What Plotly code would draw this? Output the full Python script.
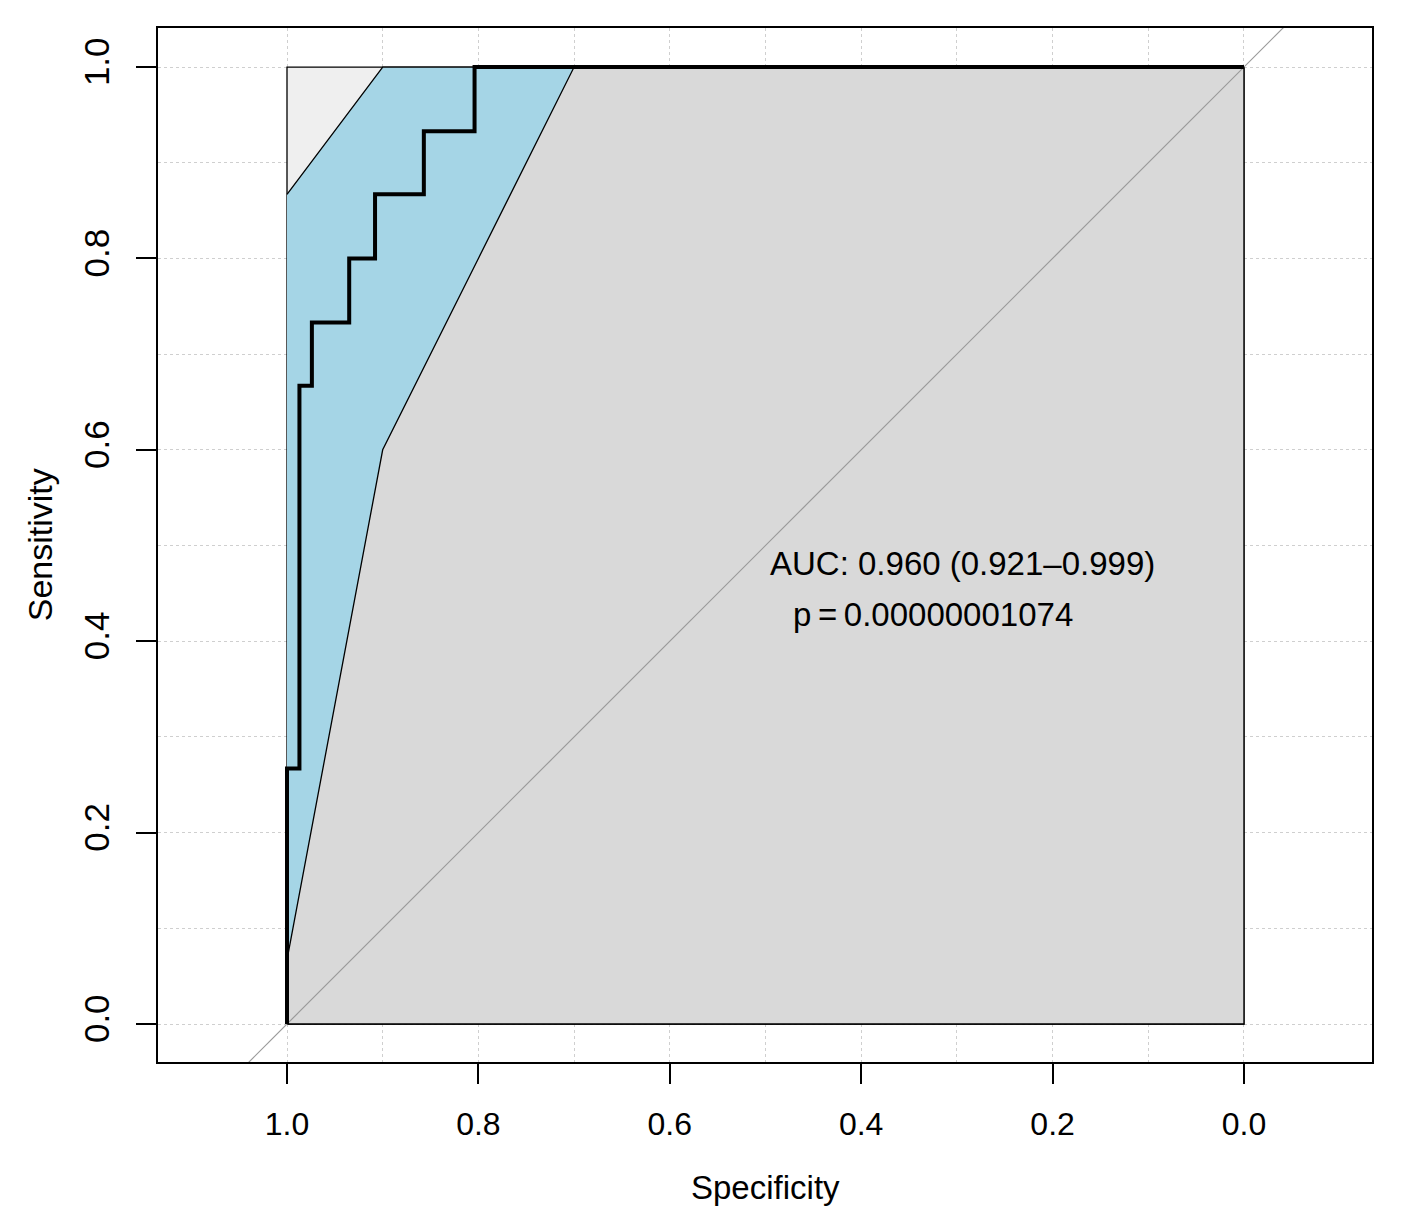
import plotly.graph_objects as go

# ROC curve (specificity, sensitivity)
roc_spec = [1.0, 1.0, 0.987, 0.987, 0.974, 0.974, 0.935, 0.935, 0.908, 0.908,
            0.857, 0.857, 0.804, 0.804, 0.0]
roc_sens = [0.0, 0.267, 0.267, 0.667, 0.667, 0.733, 0.733, 0.800, 0.800, 0.867,
            0.867, 0.933, 0.933, 1.0, 1.0]

# confidence band of sensitivity on a specificity grid
ci_spec = [1.0, 0.9, 0.8, 0.7, 0.6, 0.5, 0.4, 0.3, 0.2, 0.1, 0.0]
ci_upper = [0.867, 1.0, 1.0, 1.0, 1.0, 1.0, 1.0, 1.0, 1.0, 1.0, 1.0]
ci_lower = [0.067, 0.600, 0.800, 1.0, 1.0, 1.0, 1.0, 1.0, 1.0, 1.0, 1.0]

# square of the max AUC
box_spec = [1.0, 1.0, 0.0, 0.0, 1.0]
box_sens = [0.0, 1.0, 1.0, 0.0, 0.0]

# chance line sens = 1 - spec, drawn beyond the visible range
diag_spec = [1.3, -0.3]
diag_sens = [1 - s for s in diag_spec]

tick_vals = [0.0, 0.2, 0.4, 0.6, 0.8, 1.0]
tick_text = ["0.0", "0.2", "0.4", "0.6", "0.8", "1.0"]
grid_vals = [0.0, 0.1, 0.2, 0.3, 0.4, 0.5, 0.6, 0.7, 0.8, 0.9, 1.0]

auc_label = "AUC: 0.960 (0.921\u20130.999)"
p_label = "p\u2009=\u20090.00000001074"

FONT = "Liberation Sans, Arial, sans-serif"

fig = go.Figure()

# max auc polygon (light)
fig.add_trace(go.Scatter(x=box_spec, y=box_sens, mode="lines", fill="toself",
    fillcolor="#efefef", line=dict(color="black", width=1.3), hoverinfo="skip"))

# auc polygon (under ROC)
auc_x = roc_spec + [0.0, 1.0]
auc_y = roc_sens + [0.0, 0.0]
fig.add_trace(go.Scatter(x=auc_x, y=auc_y, mode="lines", fill="toself",
    fillcolor="#d9d9d9", line=dict(color="black", width=1.3), hoverinfo="skip"))

# CI shape
ci_x = ci_spec + ci_spec[::-1]
ci_y = ci_upper + ci_lower[::-1]
fig.add_trace(go.Scatter(x=ci_x, y=ci_y, mode="lines", fill="toself",
    fillcolor="#a5d5e6", line=dict(color="black", width=1.3), hoverinfo="skip"))

# diagonal
fig.add_trace(go.Scatter(x=diag_spec, y=diag_sens, mode="lines",
    line=dict(color="#9a9a9a", width=1.2), hoverinfo="skip"))

# ROC curve
fig.add_trace(go.Scatter(x=roc_spec, y=roc_sens, mode="lines",
    line=dict(color="black", width=4), hoverinfo="skip"))

fig.add_annotation(x=0.294, y=0.481, text=auc_label, showarrow=False,
    font=dict(family=FONT, size=33, color="black"))
fig.add_annotation(x=0.325, y=0.428, text=p_label, showarrow=False,
    font=dict(family=FONT, size=33, color="black"))

# axis titles
fig.add_annotation(x=0.5, y=-0.121, xref="paper", yref="paper", text="Specificity",
    xanchor="center", yanchor="middle", showarrow=False,
    font=dict(family=FONT, size=33, color="black"))
fig.add_annotation(x=-0.097, y=0.5, xref="paper", yref="paper", text="Sensitivity",
    xanchor="center", yanchor="middle", textangle=-90, showarrow=False,
    font=dict(family=FONT, size=34, color="black"))

axis_common = dict(
    tickmode="array", tickvals=tick_vals, ticktext=tick_text,
    ticks="outside", ticklen=20, tickwidth=2, tickcolor="black",
    showline=True, mirror=True, linecolor="black", linewidth=2,
    showgrid=True, gridcolor="#cfcfcf", gridwidth=1, griddash="dot",
    minor=dict(tickmode="array", tickvals=grid_vals, showgrid=True,
               gridcolor="#cfcfcf", gridwidth=1, griddash="dot", ticks=""),
    zeroline=False,
)

fig.update_xaxes(axis_common, range=[1.1348, -0.1338],
    tickfont=dict(family=FONT, size=32, color="black"), ticklabelstandoff=13)
fig.update_yaxes(axis_common, range=[-0.0397, 1.0408], tickangle=-90,
    tickfont=dict(family=FONT, size=35, color="black"), ticklabelstandoff=13)

# the page adds an 8px body margin, so the margins are shifted by that amount
fig.update_layout(
    width=1409, height=1224,
    margin=dict(l=150, r=45, t=20, b=170),
    plot_bgcolor="white", paper_bgcolor="white",
    showlegend=False,
)

fig.write_html("out.html")
